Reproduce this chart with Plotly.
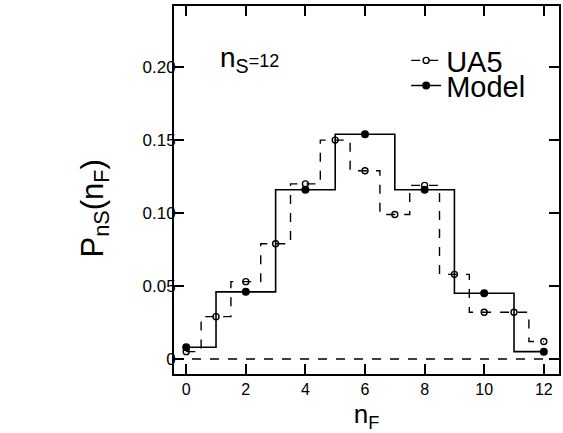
import plotly.graph_objects as go

ua5_nf = [0, 1, 2, 3, 4, 5, 6, 7, 8, 9, 10, 11, 12]
ua5_p = [0.005, 0.029, 0.053, 0.079, 0.120, 0.150, 0.129, 0.099, 0.119, 0.058, 0.032, 0.032, 0.012]
model_nf = [0, 2, 4, 6, 8, 10, 12]
model_p = [0.008, 0.046, 0.116, 0.154, 0.116, 0.045, 0.005]
x_ticks = [0, 2, 4, 6, 8, 10, 12]
y_ticks = [0, 0.05, 0.10, 0.15, 0.20]
y_tick_text = ["0", "0.05", "0.10", "0.15", "0.20"]

FONT = "Liberation Sans, Arial, sans-serif"

fig = go.Figure()
fig.add_trace(go.Scatter(
    x=ua5_nf, y=ua5_p, name="UA5", mode="lines+markers", legend="legend",
    line=dict(shape="hvh", color="black", width=1.4, dash="dash"),
    marker=dict(symbol="circle-open", size=6, color="black", line=dict(width=1.4)),
))
fig.add_trace(go.Scatter(
    x=model_nf, y=model_p, name="Model", mode="lines+markers", legend="legend2",
    line=dict(shape="hvh", color="black", width=1.6),
    marker=dict(symbol="circle", size=8, color="black"),
))

fig.add_shape(type="line", xref="paper", yref="y", x0=0, x1=1, y0=0, y1=0,
              line=dict(color="black", width=1.4, dash="dash"))

fig.add_annotation(
    x=0.115, y=0.855, xref="paper", yref="paper", xanchor="left", yanchor="middle",
    text="n<sub>S</sub><span style='font-size:18px'>=12</span>", showarrow=False,
    font=dict(family=FONT, size=28, color="black"),
)

# y-axis title as rotated annotation (placed like the reference)
fig.add_annotation(
    x=-0.205, y=0.45, xref="paper", yref="paper", showarrow=False, textangle=-90,
    xanchor="center", yanchor="middle",
    text="P<sub>nS</sub>(n<sub>F</sub>)",
    font=dict(family=FONT, size=31, color="black"),
)

fig.update_xaxes(
    range=[-0.41, 12.51], tickvals=x_ticks, ticks="inside", ticklen=10, tickwidth=2,
    tickcolor="black", showline=True, linecolor="black", linewidth=2, mirror="ticks",
    showgrid=False, zeroline=False,
    tickfont=dict(family=FONT, size=16, color="black"),
    title=dict(text="n<sub>F</sub>", font=dict(family=FONT, size=26, color="black"), standoff=8),
)
fig.update_yaxes(
    range=[-0.0103, 0.2419], tickvals=y_ticks, ticktext=y_tick_text, ticks="inside",
    ticklen=10, tickwidth=2, tickcolor="black", showline=True, linecolor="black",
    linewidth=2, mirror="ticks", showgrid=False, zeroline=False, ticklabelstandoff=-7,
    tickfont=dict(family=FONT, size=17, color="black"),
)

fig.update_layout(
    width=563, height=433,
    margin=dict(l=174, r=2, t=6, b=59),
    paper_bgcolor="white", plot_bgcolor="white",
    showlegend=True,
    legend=dict(x=0.603, y=0.921, xanchor="left", yanchor="top",
                font=dict(family=FONT, size=29, color="black"),
                bgcolor="rgba(0,0,0,0)"),
    legend2=dict(x=0.603, y=0.853, xanchor="left", yanchor="top",
                 font=dict(family=FONT, size=29, color="black"),
                 bgcolor="rgba(0,0,0,0)"),
)

fig.write_html("out.html")
